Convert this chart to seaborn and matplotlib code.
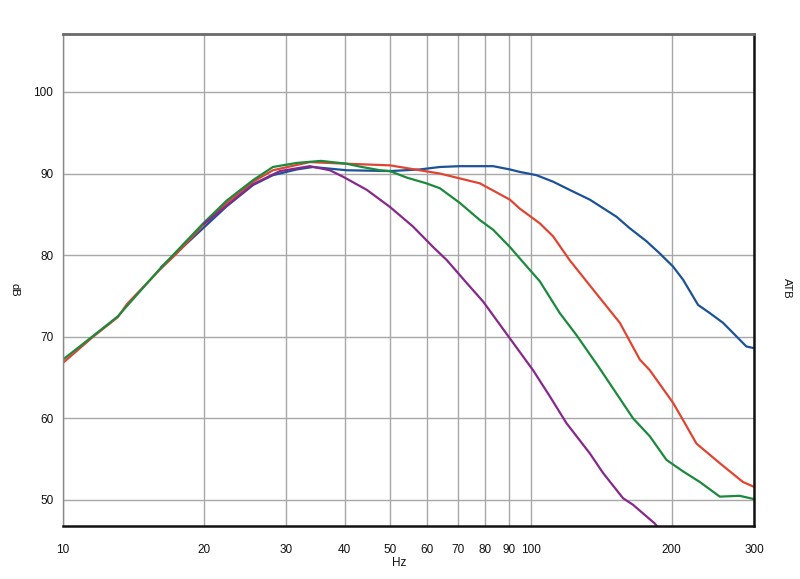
import matplotlib
matplotlib.use("Agg")
import matplotlib.pyplot as plt
import seaborn as sns
import pandas as pd
from matplotlib.ticker import FixedLocator, NullLocator, FixedFormatter

# ---- data (Hz, dB) ----
red_hz = [10, 11.6, 13.1, 13.7, 16.1, 17.5, 19.95, 22.4, 25.5, 28.1, 31.6, 33.7, 40.4, 50, 57.9,
          63.9, 70.5, 77.8, 90.2, 94.7, 104.5, 111.6, 121, 138, 155, 171, 179.6, 201.4, 211.5,
          226, 253.5, 284, 300]
red_db = [66.8, 70.0, 72.4, 74.0, 78.2, 80.2, 83.7, 86.4, 89.0, 90.4, 91.05, 91.4, 91.2, 91.0, 90.4,
          90.0, 89.4, 88.8, 86.8, 85.7, 83.9, 82.3, 79.4, 75.3, 71.7, 67.2, 65.9, 61.9, 59.8,
          56.9, 54.5, 52.2, 51.6]

blue_hz = [16.2, 22.4, 25.5, 28.1, 31.6, 34.2, 40.4, 50, 57.9, 63.9, 70.5, 83.1, 90.2, 94.7,
           102.8, 111.6, 121, 133.7, 152.5, 162.7, 176.7, 188.7, 201.4, 211.5, 227.8, 241.3,
           257.6, 289, 300]
blue_db = [78.5, 86.0, 88.6, 89.8, 90.5, 90.8, 90.4, 90.3, 90.5, 90.8, 90.9, 90.9, 90.5, 90.2,
           89.8, 89.0, 88.0, 86.8, 84.7, 83.3, 81.7, 80.2, 78.6, 77.0, 73.9, 72.9,
           71.7, 68.8, 68.6]

green_hz = [10, 11.6, 13.1, 16.1, 19.95, 22.4, 25.5, 28.1, 31.6, 35.6, 40.4, 43.1, 47.6, 50, 54.3,
            59.8, 63.9, 70.5, 77.8, 83.1, 90.2, 94.7, 104.5, 115.3, 125.2, 140.4, 165.4, 179.6,
            195, 211.5, 229.7, 253.5, 279.7, 300]
green_db = [67.2, 70.1, 72.5, 78.3, 83.9, 86.7, 89.2, 90.8, 91.3, 91.55, 91.2, 90.85, 90.4, 90.3, 89.5,
            88.8, 88.2, 86.4, 84.3, 83.1, 81.0, 79.6, 76.8, 72.9, 70.2, 66.1, 60.0, 57.8,
            54.9, 53.5, 52.2, 50.4, 50.5, 50.1]

purple_hz = [20, 25.5, 29.1, 33.7, 37.2, 39.7, 44.6, 50, 56.0, 61.8, 66.1, 72.9, 79.1, 90.2,
             101.1, 109.8, 119.2, 133.7, 142.7, 157.5, 165.4, 184.1, 186]
purple_db = [83.8, 88.7, 90.3, 90.9, 90.4, 89.6, 88.0, 85.9, 83.5, 81.0, 79.4, 76.6, 74.3, 69.8,
             65.9, 62.7, 59.4, 55.7, 53.3, 50.2, 49.4, 47.1, 46.8]

x_ticks = [10, 20, 30, 40, 50, 60, 70, 80, 90, 100, 200, 300]
x_tick_labels = ["10", "20", "30", "40", "50", "60", "70", "80", "90", "100", "200", "300"]
y_ticks = [50, 60, 70, 80, 90, 100]

series = [("blue", blue_hz, blue_db), ("red", red_hz, red_db),
          ("green", green_hz, green_db), ("purple", purple_hz, purple_db)]
frames = [pd.DataFrame({"Hz": h, "dB": d, "curve": n}) for n, h, d in series]
df = pd.concat(frames, ignore_index=True)

palette = {"blue": "#1c5398", "red": "#e04531", "green": "#1b8a3c", "purple": "#86288c"}

sns.set_style("white")
plt.rcParams["font.family"] = ["Liberation Sans", "DejaVu Sans"]

fig = plt.figure(figsize=(8.0, 5.79), dpi=100)
ax = fig.add_axes([63 / 800, 53 / 579, (754 - 63) / 800, (526 - 34) / 579])

sns.lineplot(data=df, x="Hz", y="dB", hue="curve", palette=palette, linewidth=1.6,
             legend=False, ax=ax, sort=True, estimator=None)

ax.set_xscale("log")
ax.set_xlim(10, 300)
ax.set_ylim(46.8, 107.1)
ax.xaxis.set_major_locator(FixedLocator(x_ticks))
ax.xaxis.set_major_formatter(FixedFormatter(x_tick_labels))
ax.xaxis.set_minor_locator(NullLocator())
ax.set_yticks(y_ticks)

ax.grid(True, color="#a8a8a8", linewidth=1.0)
ax.set_axisbelow(True)

ax.tick_params(axis="both", which="major", length=4, width=0.8, color="#777777",
               labelsize=8.5, labelcolor="#111111", direction="out")
ax.tick_params(axis="x", pad=9)
ax.tick_params(axis="y", pad=3)

ax.spines["top"].set_color("#6a6a6a")
ax.spines["top"].set_linewidth(2.0)
ax.spines["left"].set_color("#8a8a8a")
ax.spines["left"].set_linewidth(1.0)
ax.spines["bottom"].set_color("#111111")
ax.spines["bottom"].set_linewidth(1.8)
ax.spines["right"].set_color("#111111")
ax.spines["right"].set_linewidth(1.8)

ax.set_xlabel("")
ax.set_ylabel("")
fig.text(399 / 800, 1 - 563 / 579, "Hz", ha="center", va="center", fontsize=8.5, color="#111111")
fig.text(14 / 800, 1 - 290 / 579, "dB", ha="center", va="center", rotation=270,
         fontsize=8, color="#111111")
fig.text(787 / 800, 1 - 288 / 579, "ATB", ha="center", va="center", rotation=270,
         fontsize=8, color="#111111")

fig.savefig("out.png", dpi=100, facecolor="white")
